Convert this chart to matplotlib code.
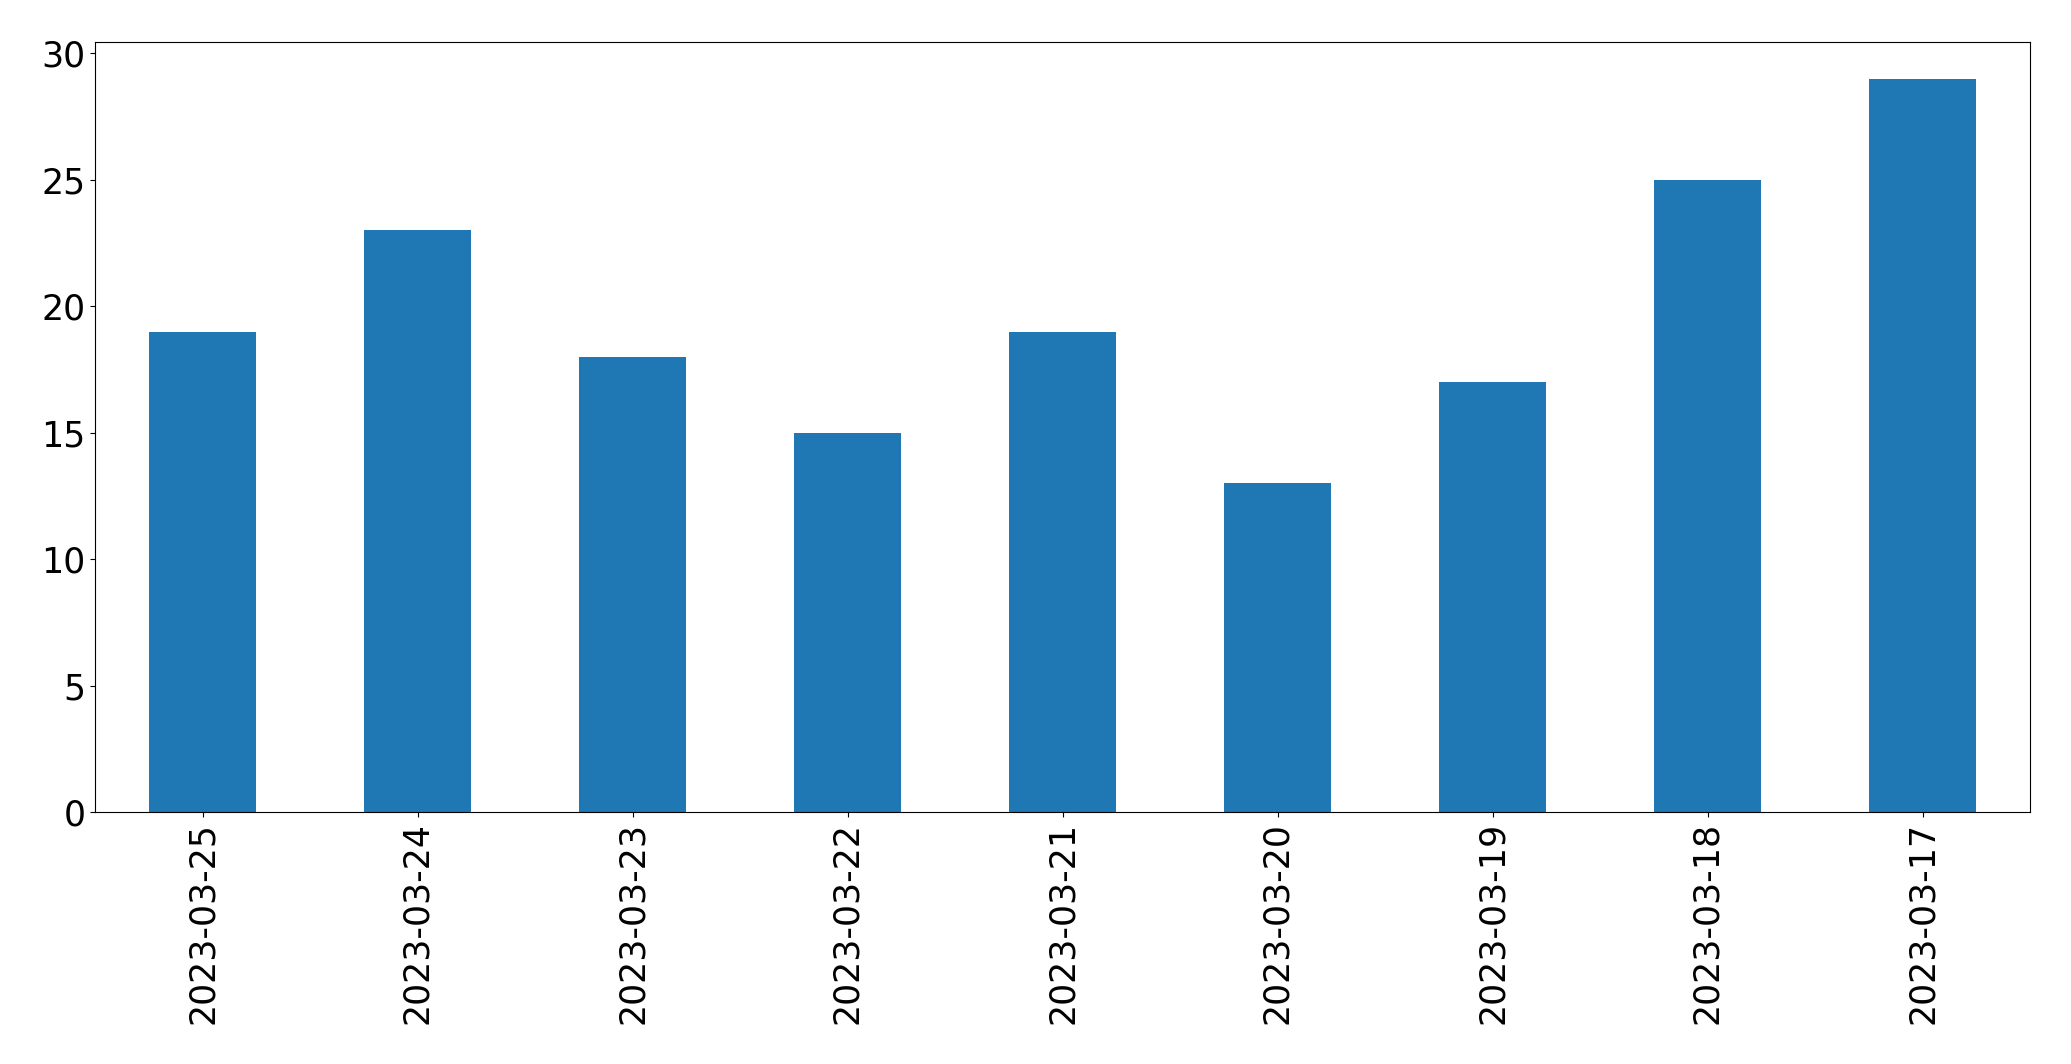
#!/usr/bin/env python3

import matplotlib
matplotlib.use('Agg')
import matplotlib.pyplot as plt
import numpy as np

#================ Data =====================
dates = ['2023-03-25', '2023-03-24', '2023-03-23', '2023-03-22', '2023-03-21',
         '2023-03-20', '2023-03-19', '2023-03-18', '2023-03-17']
counts = [19, 23, 18, 15, 19, 13, 17, 25, 29]

#================ Plot =====================
fig = plt.figure(figsize=(20.71, 10.64), dpi=100)
ax = fig.add_axes([95 / 2071, 1 - 812 / 1064, (2030 - 95) / 2071, (812 - 42) / 1064])

x = np.arange(len(dates))
ax.bar(x, counts, width=0.5, color='#1f77b4')

ax.set_xlim(-0.5, len(dates) - 0.5)
ax.set_ylim(0, max(counts) * 1.05)
ax.set_xticks(x)
ax.set_xticklabels(dates, rotation=90)
ax.tick_params(axis='both', labelsize=25)

fig.savefig('out.png', dpi=100)
